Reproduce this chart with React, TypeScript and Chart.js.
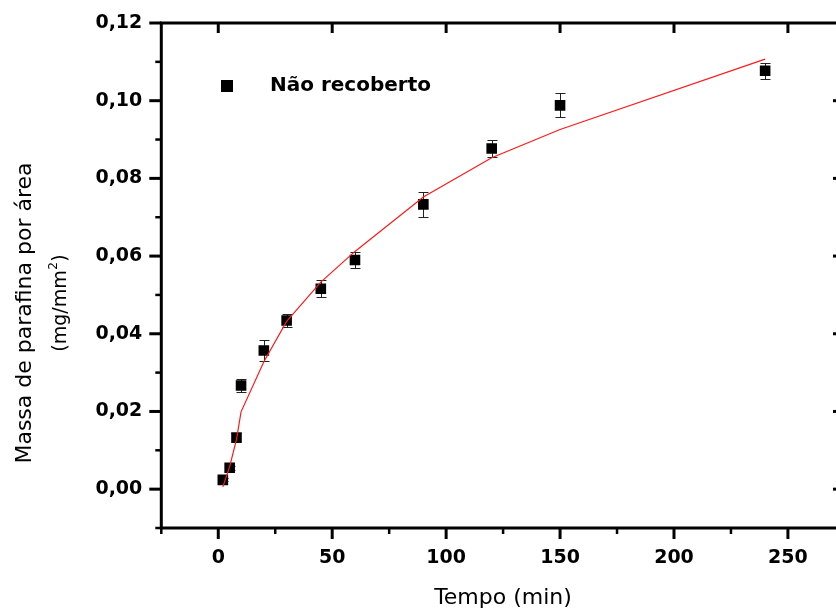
import React, { useEffect, useRef } from 'react';
import { Chart, registerables } from 'chart.js';

Chart.register(...registerables);

// ---- data ----
const times = [2, 5, 8, 10, 20, 30, 45, 60, 90, 120, 150, 240];
const mass = [0.0024, 0.0055, 0.0133, 0.0267, 0.0357, 0.0434, 0.0516, 0.059, 0.0733, 0.0877, 0.0988, 0.1077];
const massErr = [0.0004, 0.0005, 0.0012, 0.0017, 0.0026, 0.0016, 0.0022, 0.0021, 0.0033, 0.0021, 0.0031, 0.002];
const fitMass = [0.0006, 0.0058, 0.0128, 0.0199, 0.0328, 0.0432, 0.0533, 0.0612, 0.0752, 0.0853, 0.0926, 0.1107];

const xLabelTicks = [0, 50, 100, 150, 200, 250];
const xMinorTicks = [-25, 25, 75, 125, 175, 225];
const yLabelTicks = [0, 0.02, 0.04, 0.06, 0.08, 0.1, 0.12];
const yMinorTicks = [-0.01, 0.01, 0.03, 0.05, 0.07, 0.09, 0.11];

const legendLabel = 'Não recoberto';
const xTitle = 'Tempo (min)';
const yTitleLine1 = 'Massa de parafina por área';
const yTitleLine2 = '(mg/mm';
const yTitleSup = '2';
const yTitleEnd = ')';

const FONT = '"DejaVu Sans", "Liberation Sans", Arial, sans-serif';

const zeroPad = (s: any) => {
  s.paddingLeft = 0;
  s.paddingRight = 0;
  s.paddingTop = 0;
  s.paddingBottom = 0;
};

const decorPlugin = {
  id: 'decor',
  beforeDatasetsDraw(chart: any) {
    const { ctx, scales } = chart;
    const x = scales.x;
    const y = scales.y;
    ctx.save();
    ctx.strokeStyle = '#222';
    ctx.lineWidth = 1;
    times.forEach((t, i) => {
      const px = Math.round(x.getPixelForValue(t)) + 0.5;
      const yTop = Math.round(y.getPixelForValue(mass[i] + massErr[i])) + 0.5;
      const yBot = Math.round(y.getPixelForValue(mass[i] - massErr[i])) + 0.5;
      ctx.beginPath();
      ctx.moveTo(px, yTop);
      ctx.lineTo(px, yBot);
      ctx.moveTo(px - 5, yTop);
      ctx.lineTo(px + 5, yTop);
      ctx.moveTo(px - 5, yBot);
      ctx.lineTo(px + 5, yBot);
      ctx.stroke();
    });
    ctx.restore();
  },
  afterDraw(chart: any) {
    const { ctx, chartArea: a, scales } = chart;
    const x = scales.x;
    const y = scales.y;
    const seg = (x1: number, y1: number, x2: number, y2: number, w: number) => {
      ctx.lineWidth = w;
      ctx.beginPath();
      ctx.moveTo(x1, y1);
      ctx.lineTo(x2, y2);
      ctx.stroke();
    };
    ctx.save();
    ctx.strokeStyle = '#000';
    ctx.lineCap = 'butt';
    ctx.lineJoin = 'miter';
    // frame
    ctx.lineWidth = 3;
    ctx.beginPath();
    ctx.moveTo(a.right + 3, a.top);
    ctx.lineTo(a.left, a.top);
    ctx.lineTo(a.left, a.bottom);
    ctx.lineTo(a.right + 3, a.bottom);
    ctx.stroke();
    // left ticks (outward)
    yLabelTicks.forEach((v) => {
      const p = y.getPixelForValue(v);
      seg(a.left - 12, p, a.left, p, 3);
    });
    yMinorTicks.forEach((v) => {
      const p = y.getPixelForValue(v);
      seg(a.left - 6, p, a.left, p, 2.5);
    });
    // right ticks (inward, axis beyond the picture)
    yLabelTicks.forEach((v) => {
      if (v >= 0.12) return;
      const p = y.getPixelForValue(v);
      seg(a.right - 3, p, a.right, p, 3);
    });
    // bottom ticks (outward)
    xLabelTicks.forEach((v) => {
      const p = x.getPixelForValue(v);
      seg(p, a.bottom, p, a.bottom + 11, 3);
    });
    xMinorTicks.forEach((v) => {
      const p = x.getPixelForValue(v);
      seg(p, a.bottom, p, a.bottom + 6, 2.5);
    });
    // top ticks (inward)
    xLabelTicks.forEach((v) => {
      const p = x.getPixelForValue(v);
      seg(p, a.top, p, a.top + 10, 3);
    });

    // legend
    ctx.fillStyle = '#000';
    ctx.fillRect(221, 80, 12, 12);
    ctx.font = `bold 20px ${FONT}`;
    ctx.textAlign = 'left';
    ctx.textBaseline = 'middle';
    ctx.fillText(legendLabel, 270, 86);

    // x title
    ctx.font = `22px ${FONT}`;
    ctx.textAlign = 'center';
    ctx.textBaseline = 'middle';
    ctx.fillText(xTitle, 503, 598);

    // y title line 1
    ctx.save();
    ctx.translate(25, 313);
    ctx.rotate(-Math.PI / 2);
    ctx.font = `22px ${FONT}`;
    ctx.textAlign = 'center';
    ctx.textBaseline = 'middle';
    ctx.fillText(yTitleLine1, 0, 0);
    ctx.restore();

    // y title line 2 with superscript
    ctx.save();
    ctx.translate(61, 303);
    ctx.rotate(-Math.PI / 2);
    ctx.textBaseline = 'middle';
    ctx.textAlign = 'left';
    const mainFont = `19px ${FONT}`;
    const supFont = `12px ${FONT}`;
    ctx.font = mainFont;
    const w1 = ctx.measureText(yTitleLine2).width;
    const w3 = ctx.measureText(yTitleEnd).width;
    ctx.font = supFont;
    const w2 = ctx.measureText(yTitleSup).width;
    const total = w1 + w2 + w3 + 1;
    let cx = -total / 2;
    ctx.font = mainFont;
    ctx.fillText(yTitleLine2, cx, 0);
    cx += w1;
    ctx.font = supFont;
    ctx.fillText(yTitleSup, cx + 0.5, -7);
    cx += w2 + 1;
    ctx.font = mainFont;
    ctx.fillText(yTitleEnd, cx, 0);
    ctx.restore();

    ctx.restore();
  },
};

export default function App() {
  const ref = useRef<HTMLCanvasElement | null>(null);
  useEffect(() => {
    if (!ref.current) return;
    const chart = new Chart(ref.current, {
      type: 'scatter',
      data: {
        datasets: [
          {
            label: 'Ajuste',
            data: times.map((t, i) => ({ x: t, y: fitMass[i] })),
            showLine: true,
            borderColor: '#ff1a1a',
            borderWidth: 1.2,
            pointRadius: 0,
            tension: 0,
            order: 0,
          } as any,
          {
            label: legendLabel,
            data: times.map((t, i) => ({ x: t, y: mass[i] })),
            pointStyle: 'rect',
            pointRadius: 7.5,
            pointBackgroundColor: '#000',
            pointBorderColor: '#000',
            pointBorderWidth: 0,
            showLine: false,
            order: 1,
          } as any,
        ],
      },
      options: {
        responsive: false,
        devicePixelRatio: 1,
        animation: false,
        layout: { autoPadding: false, padding: { top: 23, left: 0, right: 0, bottom: 0 } },
        plugins: { legend: { display: false }, tooltip: { enabled: false } },
        scales: {
          x: {
            type: 'linear',
            min: -25,
            max: 271.1,
            border: { display: false },
            grid: { display: false, drawTicks: false },
            afterFit: (s: any) => {
              s.height = 87;
              zeroPad(s);
            },
            afterBuildTicks: (s: any) => {
              s.ticks = xLabelTicks.map((v) => ({ value: v }));
            },
            ticks: {
              autoSkip: false,
              maxRotation: 0,
              padding: 19,
              color: '#000',
              font: { family: FONT, size: 19, weight: 'bold' },
              callback: (v: any) => String(v),
            },
          },
          y: {
            type: 'linear',
            min: -0.01,
            max: 0.12,
            border: { display: false },
            grid: { display: false, drawTicks: false },
            afterFit: (s: any) => {
              s.width = 161.3;
              zeroPad(s);
            },
            afterBuildTicks: (s: any) => {
              s.ticks = yLabelTicks.map((v) => ({ value: v }));
            },
            ticks: {
              autoSkip: false,
              padding: 19,
              color: '#000',
              font: { family: FONT, size: 19, weight: 'bold' },
              callback: (v: any) => Number(v).toFixed(2).replace('.', ','),
            },
          },
        },
      },
      plugins: [decorPlugin],
    } as any);
    return () => chart.destroy();
  }, []);
  return (
    <div style={{ position: 'fixed', left: 0, top: 0, width: 836, height: 615, background: '#fff' }}>
      <canvas ref={ref} width={836} height={615} style={{ display: 'block' }} />
    </div>
  );
}
